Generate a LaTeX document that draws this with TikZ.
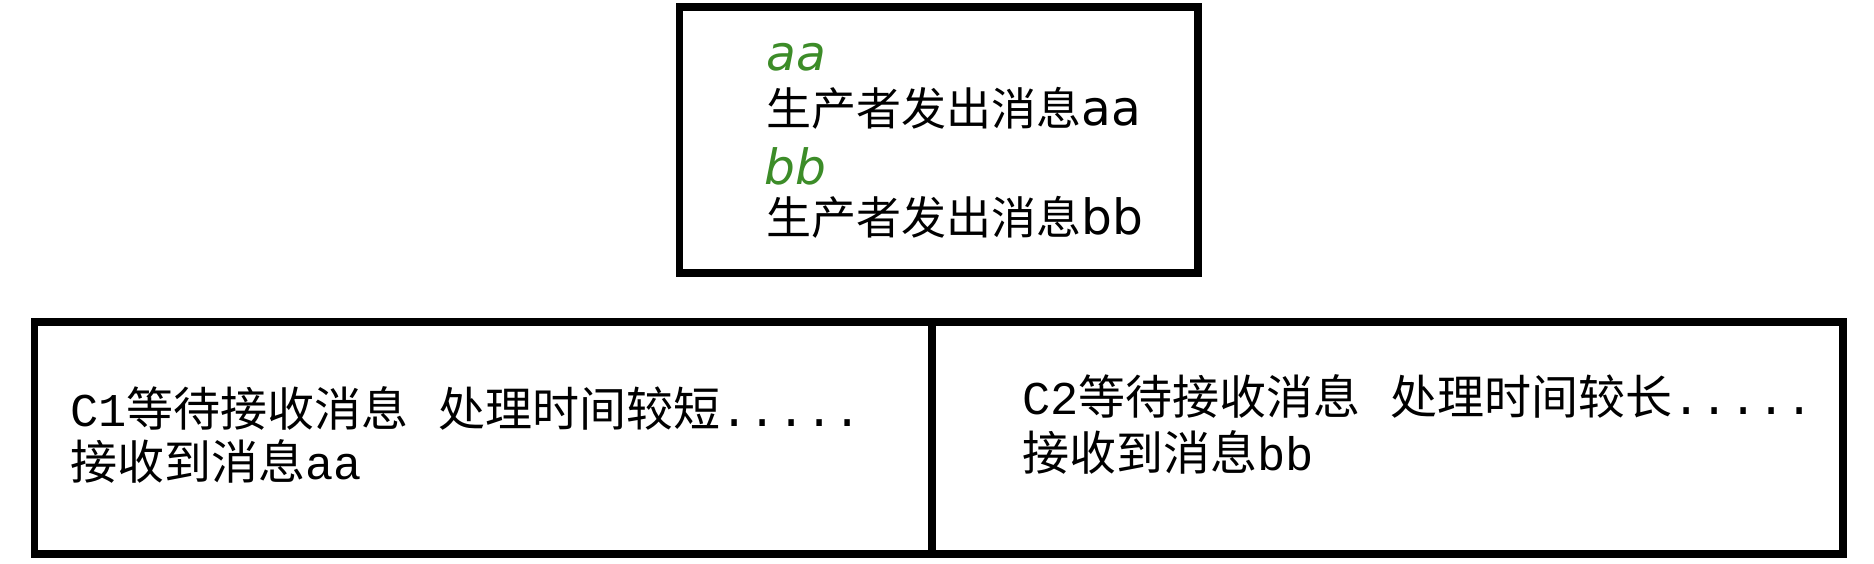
\documentclass[tikz,border=0pt]{standalone}
\usepackage{fontspec}
\setmainfont{Noto Sans CJK SC}
\newfontfamily\cjk{Noto Sans CJK SC}
\newfontfamily\mono{Liberation Mono}
\newfontfamily\dvs{DejaVu Sans}[Scale=1.08]
\definecolor{codegreen}{RGB}{60,140,40}
\tikzset{
  box/.style={draw=black, line width=7.5pt, inner sep=0pt, outer sep=0pt},
  toptxt/.style={anchor=base west, inner sep=0pt, font=\cjk\fontsize{45}{54}\selectfont},
  bottxt/.style={anchor=base west, inner sep=0pt, font=\cjk\fontsize{47}{56}\selectfont},
}
\begin{document}
\begin{tikzpicture}[x=1pt, y=-1pt]
\useasboundingbox (0,0) rectangle (1874,564);
\fill[white] (0,0) rectangle (1874,564);
% boxes
\node[box, minimum width=518.5pt, minimum height=266pt] (prod) at (938.75,140) {};
\node[box, minimum width=897.5pt, minimum height=232pt] (cone) at (483.25,438) {};
\node[box, minimum width=911pt, minimum height=232pt] (ctwo) at (1387.5,438) {};
% producer text
\node[toptxt, text=codegreen] (ta) at (766,71) {\dvs\itshape aa};
\node[toptxt] (tb) at (766,126) {生产者发出消息{\dvs aa}};
\node[toptxt, text=codegreen] (tc) at (764,185) {\dvs\itshape bb};
\node[toptxt] (td) at (766,235) {生产者发出消息{\dvs bb}};
% consumer texts
\node[bottxt] (la) at (70,426) {{\mono C1}等待接收消息\hspace{30pt}处理时间较短{\mono .....}};
\node[bottxt] (lb) at (70,479) {接收到消息{\mono aa}};
\node[bottxt] (ra) at (1022,414) {{\mono C2}等待接收消息\hspace{30pt}处理时间较长{\mono .....}};
\node[bottxt] (rb) at (1022,470) {接收到消息{\mono bb}};
\end{tikzpicture}
\end{document}
